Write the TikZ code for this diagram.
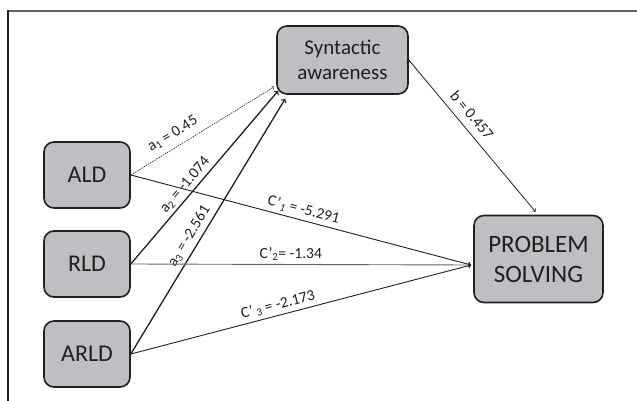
\documentclass[tikz,border=0pt]{standalone}
\usepackage{fontspec}
\setmainfont{Carlito}
\usetikzlibrary{arrows}
\definecolor{boxgray}{RGB}{190,191,195}
\definecolor{inkdark}{RGB}{35,31,32}
\definecolor{rulegray}{RGB}{100,100,100}

\begin{document}
\begin{tikzpicture}[x=1pt,y=-1pt]
\tikzstyle{every node}=[draw=inkdark,line width=1.6pt,fill=boxgray,rounded corners=10pt,align=center,inner sep=0pt,text=inkdark]
\tikzstyle{source}=[minimum width=86pt,minimum height=66pt,font=\fontsize{24}{28}\selectfont]
\tikzstyle{weight}=[draw=none,fill=none,rounded corners=0pt,sloped,inner sep=1pt,font=\fontsize{15.5}{17}\selectfont]
\useasboundingbox (0,0) rectangle (637,401);
% frame
\draw[rulegray,line width=2pt] (7,11) -- (637,11);
\draw[inkdark,line width=2pt] (8,10) -- (8,401);
\path
 (87,175)  node[source] (ALD)  {ALD}
 ++(0,89)  node[source] (RLD)  {RLD}
 ++(0,90)  node[source] (ARLD) {ARLD}
 (342.5,60) node[minimum width=131pt,minimum height=68pt,font=\fontsize{21}{25}\selectfont] (SA) {Syntactic\\awareness}
 (538.5,259) node[minimum width=129pt,minimum height=87pt,font=\fontsize{25}{30}\selectfont] (PS) {PROBLEM\\SOLVING}
 ;
\path[->,draw,inkdark,line width=0.9pt]
(ALD.east) edge[line width=0.6pt,dash pattern=on 1.5pt off 1pt] node[weight,pos=0.34,above=5pt] {a\textsubscript{1} = 0.45} ([xshift=-2pt,yshift=8pt]SA.south west)
(RLD.east) edge[line width=1.3pt] node[weight,pos=0.42,above=2pt] {a\textsubscript{2} = -1.074} ([xshift=2pt,yshift=4pt]SA.south west)
(ARLD.east) edge[line width=1.3pt] node[weight,pos=0.44,above=3pt] {a\textsubscript{3} = -2.561} ([xshift=9pt,yshift=-4pt]SA.south west)
(ALD.east) edge node[weight,pos=0.5,above=2pt] {C’\textsubscript{\itshape 1} = -5.291} ([xshift=-2pt,yshift=-6pt]PS.west)
(RLD.east) edge[rulegray] node[weight,pos=0.47,above=2pt] {C’\textsubscript{2}= -1.34} ([xshift=-2pt,yshift=-6pt]PS.west)
(ARLD.east) edge node[weight,pos=0.44,above=2pt] {C’\textsubscript{ 3} = -2.173} ([xshift=-2pt,yshift=-6pt]PS.west)
(SA.east) edge[line width=0.8pt] node[weight,pos=0.42,above=6pt] {b = 0.457} ([xshift=-3pt,yshift=3pt]PS.north)
;
\end{tikzpicture}
\end{document}
